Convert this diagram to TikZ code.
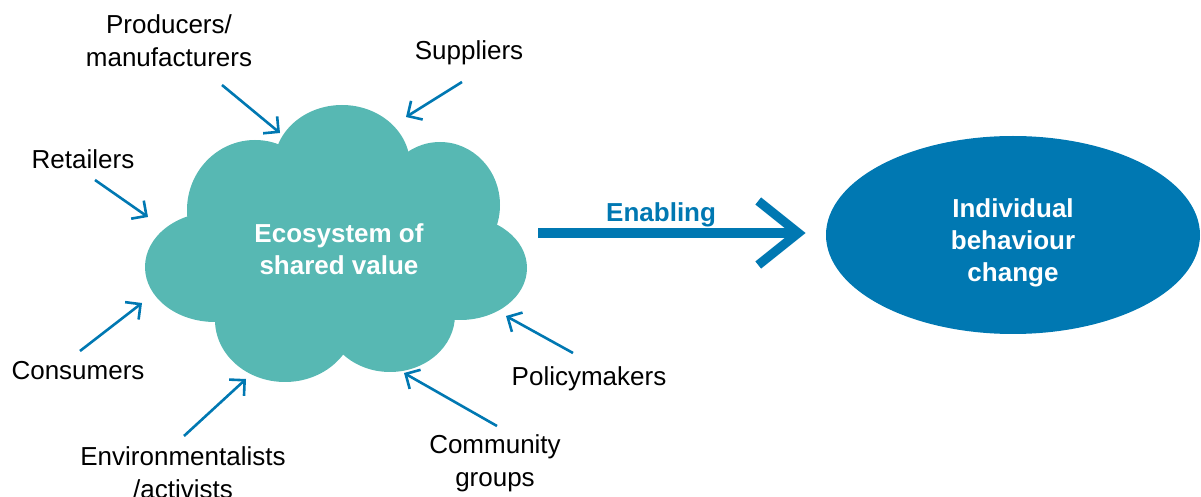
\documentclass[tikz,border=0pt]{standalone}
\usepackage{fontspec}
\setmainfont{Liberation Sans}
\usetikzlibrary{arrows.meta,shapes.geometric}

\definecolor{cloudteal}{RGB}{87,184,179}
\definecolor{ibcblue}{RGB}{0,120,178}

\begin{document}
\begin{tikzpicture}[x=0.5pt, y=-0.5pt,
	every node/.style={font=\fontsize{13}{16.5}\selectfont, align=center, inner sep=0pt},
	actor/.style={text=black},
	boldtext/.style={font=\fontsize{13}{16}\selectfont\bfseries},
	feed/.style={draw=ibcblue, line width=1.3pt, -{Straight Barb[length=5.5pt,width=11pt]}},
	enable/.style={draw=ibcblue, line width=4.6pt, -{Straight Barb[length=20pt,width=32pt]}}]
	\useasboundingbox (0,0) rectangle (1201,497);

	% cloud of lobes
	\begin{scope}
	\fill[cloudteal] (336,250) ellipse [x radius=125, y radius=100];
	\fill[cloudteal] (342,165) ellipse [x radius=68, y radius=60];
	\fill[cloudteal] (440,205) ellipse [x radius=60, y radius=63];
	\fill[cloudteal] (460,268) ellipse [x radius=67, y radius=52];
	\fill[cloudteal] (390,315) ellipse [x radius=65, y radius=57];
	\fill[cloudteal] (285,320) ellipse [x radius=70, y radius=62];
	\fill[cloudteal] (215,267) ellipse [x radius=70, y radius=55];
	\fill[cloudteal] (255,210) ellipse [x radius=68, y radius=70];
	\end{scope}

	\node[boldtext, text=white] (eco) at (339,249) {Ecosystem of\\shared value};
	\node[ellipse, fill=ibcblue, minimum width=187pt, minimum height=99pt] (ibc) at (1013,235) {};
	\node[boldtext, text=white] (ibc-text) at (1013,243) {Individual\\behaviour\\change};

	% actors
	\node[actor] (prod) at (169,41) {Producers/\\manufacturers};
	\node[actor] (supp) at (469,53) {Suppliers};
	\node[actor] (ret) at (83,159) {Retailers};
	\node[actor] (cons) at (78,371) {Consumers};
	\node[actor] (env) at (183,473) {Environmentalists\\/activists};
	\node[actor] (comm) at (495,463) {Community\\groups};
	\node[actor] (pol) at (589,379) {Policymakers};

	% arrow tips on the cloud
	\coordinate (prod-t) at (280,133);
	\coordinate (supp-t) at (406,117);
	\coordinate (ret-t) at (148,217);
	\coordinate (cons-t) at (142,303);
	\coordinate (env-t) at (246,379);
	\coordinate (comm-t) at (404,373);
	\coordinate (pol-t) at (506,316);
	\coordinate (eco-r) at (538,233);

	\draw[feed] ([shift={(53,44)}]prod.center) -- (prod-t);
	\draw[feed] ([shift={(-7,29)}]supp.center) -- (supp-t);
	\draw[feed] ([shift={(12,21)}]ret.center) -- (ret-t);
	\draw[feed] ([shift={(2,-20)}]cons.center) -- (cons-t);
	\draw[feed] ([shift={(1,-37)}]env.center) -- (env-t);
	\draw[feed] ([shift={(2,-37)}]comm.center) -- (comm-t);
	\draw[feed] ([shift={(-16,-26)}]pol.center) -- (pol-t);

	\draw[enable] (eco-r) -- node[pos=0.46, above=0.5pt, text=ibcblue, boldtext] {Enabling} ([xshift=-10pt]ibc.west |- eco-r);
\end{tikzpicture}
\end{document}
